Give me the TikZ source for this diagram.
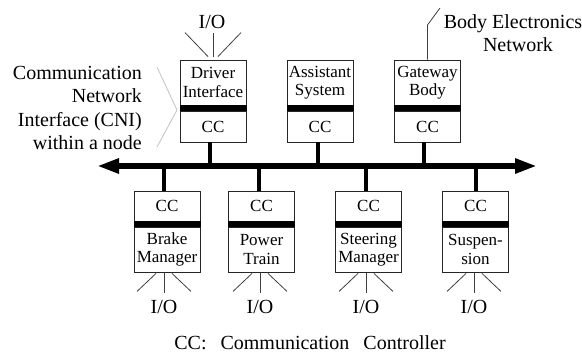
\documentclass[tikz,border=0pt]{standalone}
\usepackage{fontspec}
\setmainfont{Liberation Serif}
\usetikzlibrary{arrows.meta}
\begin{document}
\begin{tikzpicture}[x=1pt,y=-1pt,
  lbl/.style={inner sep=0pt, font=\fontsize{20}{23.3}\selectfont},
  part/.style={draw=black!85, line width=0.9pt, minimum width=66pt, inner sep=0pt, align=center, font=\fontsize{17}{18.5}\selectfont},
  namepart/.style={part, minimum height=45pt},
  ccpart/.style={part, minimum height=31pt},
  barpart/.style={fill=black, draw=black, line width=0.9pt, minimum width=66pt, minimum height=5.5pt, inner sep=0pt},
  bus/.style={line width=5.5pt, {Triangle[length=22pt,width=14pt]}-{Triangle[length=22pt,width=14pt]}},
  stub/.style={line width=4.5pt},
  io/.style={draw=black!75, line width=0.8pt},
  bracket/.style={draw=black!22, line width=0.9pt}]
\useasboundingbox (0,0) rectangle (582,354);

% bus
\coordinate (busL) at (97,166);
\coordinate (busR) at (537,166);

% top units
\foreach \n/\x/\t/\ds in {drv/213/{Driver\\Interface}/-3, ast/320/{Assistant\\System}/-2, gwy/427.5/{Gateway\\Body}/-3.5} {
  \node[namepart] (\n nm) at (\x,82.5) {\t};
  \node[barpart] (\n bar) at (\x,108) {};
  \node[ccpart] (\n cc) at (\x,126.5) {CC};
  \coordinate (\n s) at ([xshift=\ds pt]\n cc.south);
  \draw[stub] (\n s) -- (\n s |- busL);
}

% bottom units
\foreach \n/\x/\t/\ds/\di in {brk/167/{Brake\\Manager}/-3/-3, pwr/261.5/{Power\\Train}/-2.5/-1.5, str/368.5/{Steering\\Manager}/-2.5/-2.5, sus/475.5/{Suspen-\\sion}/0.5/-1.5} {
  \node[ccpart, minimum height=30pt] (\n cc) at (\x,206) {CC};
  \node[barpart] (\n bar) at (\x,224) {};
  \node[namepart] (\n nm) at (\x,249.5) {\t};
  \coordinate (\n s) at ([xshift=\ds pt]\n cc.north);
  \draw[stub] (\n s) -- (\n s |- busL);
  % I/O fan
  \coordinate (\n o) at ([xshift=\di pt]\n nm.south);
  \coordinate (\n l1) at ([xshift=-8pt,yshift=-1pt]\n o);
  \coordinate (\n l2) at ([xshift=-27pt,yshift=-19pt]\n o);
  \coordinate (\n c1) at ([yshift=-1pt]\n o);
  \coordinate (\n c2) at ([yshift=-21pt]\n o);
  \coordinate (\n r1) at ([xshift=8pt,yshift=-1pt]\n o);
  \coordinate (\n r2) at ([xshift=27pt,yshift=-19pt]\n o);
  \draw[io] (\n l1) -- (\n l2);
  \draw[io] (\n c1) -- (\n c2);
  \draw[io] (\n r1) -- (\n r2);
  \node[lbl] (\n io) at ([yshift=-35pt]\n o) {I/O};
}

\draw[bus] (busL) -- (busR);

% top I/O for driver interface
\coordinate (to) at (drvnm.north);
\coordinate (tl1) at ([xshift=-5pt,yshift=3pt]to);
\coordinate (tl2) at ([xshift=-28pt,yshift=27pt]to);
\coordinate (tc1) at ([yshift=3pt]to);
\coordinate (tc2) at ([yshift=27pt]to);
\coordinate (tr1) at ([xshift=5pt,yshift=3pt]to);
\coordinate (tr2) at ([xshift=28pt,yshift=27pt]to);
\draw[io] (tl1) -- (tl2);
\draw[io] (tc1) -- (tc2);
\draw[io] (tr1) -- (tr2);
\node[lbl] (topio) at (212,22) {I/O};

% body electronics network
\coordinate (bk1) at (428,25);
\coordinate (bk2) at (440,8);
\draw[io] (gwynm.north) -- (gwynm.north |- bk1) -- (bk2);
\node[lbl, align=center] (ben) at (513,33) {Body Electronics\\\hspace*{10pt}Network};

% CNI label and bracket
\node[lbl, align=right, anchor=east] (cni) at (142,108) {Communication\\Network\hspace*{5pt}\\Interface (CNI)\\within a node};
\coordinate (bA) at (157,67);
\coordinate (bB) at (177,110);
\coordinate (bC) at (157,147);
\draw[bracket] (bA) -- (bB) -- (bC);

% caption
\node[lbl] (cap) at (310,343) {CC:\hspace{14pt}Communication\hspace{14pt}Controller};
\end{tikzpicture}
\end{document}
